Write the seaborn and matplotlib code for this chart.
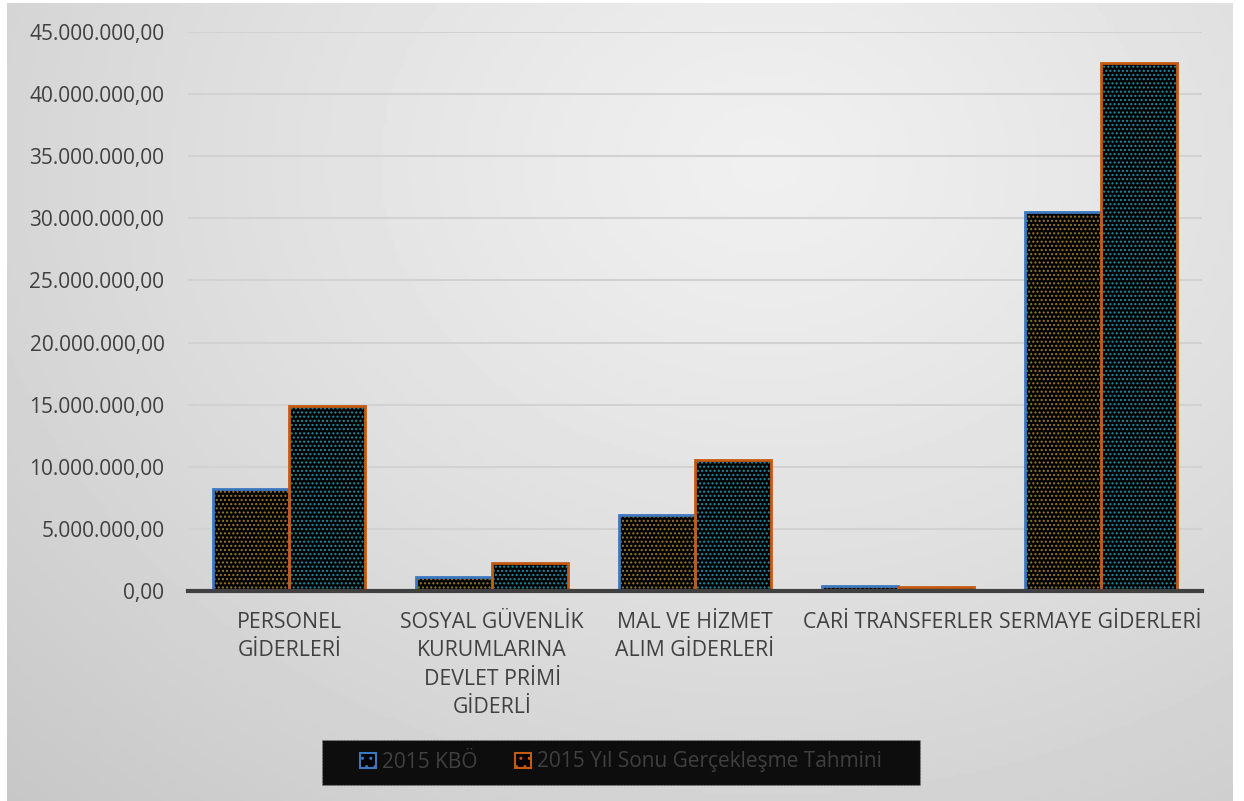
import numpy as np
import pandas as pd
import matplotlib
matplotlib.use("Agg")
import matplotlib.pyplot as plt
import matplotlib.patches as mpatches
from matplotlib.ticker import FuncFormatter
import seaborn as sns

# ----------------------------------------------------------
# DATA
# ----------------------------------------------------------

categories = [
    "PERSONEL\nGİDERLERİ",
    "SOSYAL GÜVENLİK\nKURUMLARINA\nDEVLET PRİMİ\nGİDERLİ",
    "MAL VE HİZMET\nALIM GİDERLERİ",
    "CARİ TRANSFERLER",
    "SERMAYE GİDERLERİ",
]
series_names = ["2015 KBÖ", "2015 Yıl Sonu Gerçekleşme Tahmini"]
kbo_values = [8200000, 1150000, 6100000, 400000, 30500000]
tahmin_values = [14900000, 2250000, 10550000, 300000, 42500000]

yticks = np.arange(0, 45000001, 5000000)

# ----------------------------------------------------------
# STYLE
# ----------------------------------------------------------

sns.set_theme(style="white")
plt.rcParams["font.family"] = ["Open Sans", "DejaVu Sans"]
plt.rcParams["hatch.linewidth"] = 1.0

border_colors = ["#3b78c0", "#c55a11"]
hatch_colors = ["#9a7a2c", "#1d8fa3"]
text_color = "#404040"


def tr_fmt(v, pos=None):
    s = f"{v:,.2f}"
    return s.replace(",", "X").replace(".", ",").replace("X", ".")


df = pd.DataFrame({
    "kategori": categories * 2,
    "seri": [series_names[0]] * 5 + [series_names[1]] * 5,
    "deger": kbo_values + tahmin_values,
})

fig = plt.figure(figsize=(12.44, 8.01), dpi=100, facecolor="white")

# gradient background panel
bg = fig.add_axes([7 / 1244, 0, 1226 / 1244, 798 / 801], zorder=-10)
yy, xx = np.mgrid[0:1:200j, 0:1:300j]
r = np.sqrt(((xx - 0.62) / 0.9) ** 2 + ((yy - 0.2) / 1.1) ** 2)
r = np.clip(r, 0, 1)
light, dark = 0.94, 0.78
img = light - (light - dark) * r ** 1.2
bg.imshow(img, cmap="gray", vmin=0, vmax=1, aspect="auto", extent=[0, 1, 1, 0])
bg.set_axis_off()

ax = fig.add_axes([188 / 1244, 1 - 591 / 801, 1014 / 1244, 559 / 801])
ax.patch.set_alpha(0)

sns.barplot(data=df, x="kategori", y="deger", hue="seri", palette=border_colors,
            width=0.75, ax=ax, legend=False, saturation=1, zorder=3)

# patterned fill + outline
n_cat = len(categories)
for i, bar in enumerate(ax.patches[:2 * n_cat]):
    s = i // n_cat
    bar.set_facecolor("black")
    bar.set_edgecolor(hatch_colors[s])
    bar.set_hatch("....")
    bar.set_linewidth(0)
    outline = mpatches.Rectangle(bar.get_xy(), bar.get_width(), bar.get_height(),
                                 fill=False, edgecolor=border_colors[s],
                                 linewidth=2, zorder=4)
    ax.add_patch(outline)

ax.set_ylim(0, 45000000)
ax.set_xlim(-0.5, 4.5)
ax.set_yticks(yticks)
ax.yaxis.set_major_formatter(FuncFormatter(tr_fmt))
ax.grid(axis="y", color="#d2d2d2", linewidth=1.5, zorder=0)
ax.set_axisbelow(True)
for side in ["top", "right", "left"]:
    ax.spines[side].set_visible(False)
ax.spines["bottom"].set_color(text_color)
ax.spines["bottom"].set_linewidth(3)
ax.spines["bottom"].set_zorder(5)
ax.tick_params(axis="both", length=0, colors=text_color)
ax.tick_params(axis="y", pad=17, labelsize=15)
ax.tick_params(axis="x", pad=15, labelsize=15.3)
for lab in ax.get_xticklabels():
    lab.set_linespacing(1.47)
ax.set_xlabel("")
ax.set_ylabel("")

# legend
leg_box = mpatches.Rectangle((322 / 1244, 1 - 785 / 801), 598 / 1244, 45 / 801,
                             transform=fig.transFigure, facecolor="#0d0d0d",
                             edgecolor="#888888", linestyle=(0, (1, 2)),
                             linewidth=0.8, zorder=1)
fig.patches.append(leg_box)
handles = [
    mpatches.Patch(facecolor="black", edgecolor=border_colors[k], linewidth=1.5,
                   hatch="..", label=series_names[k])
    for k in range(2)
]
leg = fig.legend(handles=handles, loc="center", bbox_to_anchor=(621 / 1244, 1 - 762 / 801),
                 ncol=2, frameon=False, fontsize=15, handlelength=0.75,
                 handleheight=0.75, handletextpad=0.3, columnspacing=1.8)
for t in leg.get_texts():
    t.set_color(text_color)

fig.savefig("out.png", dpi=100, facecolor="white")
